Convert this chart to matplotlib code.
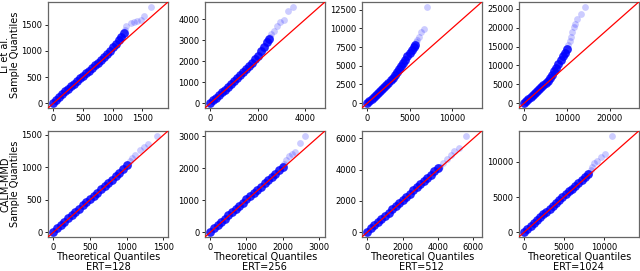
"""QQ plots: Li et al. vs CALM-MMD at four ERT settings."""
import matplotlib
matplotlib.use("Agg")
import matplotlib.pyplot as plt
from matplotlib.ticker import MultipleLocator

ert = [128, 256, 512, 1024]
methods = ["Li et al.", "CALM-MMD"]

# Li et al. -- dense body of the QQ curve, then sparse tail
li_128_x = [0, 50, 100, 150, 200, 250, 300, 350, 400, 450, 500, 550, 600,
            650, 700, 750, 800, 850, 900, 950, 1000, 1050, 1100, 1150, 1200]
li_128_y = [10, 65, 120, 172, 225, 275, 325, 375, 425, 475, 525, 572, 622,
            672, 722, 775, 830, 885, 945, 1005, 1070, 1135, 1205, 1270, 1340]
li_128_tail_x = [1215, 1233, 1306, 1361, 1417, 1472, 1528, 1650]
li_128_tail_y = [1400, 1481, 1525, 1556, 1575, 1587, 1669, 1844]

li_256_x = [0, 125, 250, 375, 500, 625, 750, 875, 1000, 1125, 1250, 1375,
            1500, 1625, 1750, 1875, 2000, 2125, 2250, 2375, 2450]
li_256_y = [20, 145, 270, 395, 522, 650, 778, 908, 1045, 1180, 1330, 1490,
            1635, 1775, 1920, 2085, 2270, 2470, 2680, 2900, 3050]
li_256_tail_x = [2500, 2552, 2690, 2786, 2924, 3103, 3283, 3490]
li_256_tail_y = [3150, 3297, 3453, 3688, 3891, 3953, 4391, 4594]

li_512_x = [0, 250, 500, 750, 1000, 1250, 1500, 1750, 2000, 2250, 2500, 2750,
            3000, 3250, 3500, 3750, 4000, 4250, 4500, 4750, 5000, 5250, 5500,
            5650]
li_512_y = [30, 290, 540, 790, 1050, 1310, 1580, 1850, 2140, 2440, 2740, 3040,
            3420, 3800, 4200, 4560, 4960, 5380, 5800, 6270, 6730, 7150, 7560,
            7800]
li_512_tail_x = [5765, 5922, 6118, 6392, 6706, 7059]
li_512_tail_y = [8165, 8472, 8823, 9561, 9868, 12895]

li_1024_x = [0, 500, 1000, 1500, 2000, 2500, 3000, 3500, 4000, 4500, 5000,
             5500, 6000, 6500, 7000, 7500, 8000, 8500, 9000, 9500, 10000]
li_1024_y = [50, 560, 1070, 1580, 2090, 2620, 3140, 3660, 4180, 4700, 5300,
             5950, 6700, 7500, 8400, 9350, 10400, 11400, 12400, 13400, 14400]
li_1024_tail_x = [10154, 10615, 11000, 11231, 11538, 12000, 12462, 13308, 14308]
li_1024_tail_y = [15278, 16580, 17622, 18750, 20052, 21094, 22309, 23698, 25521]

# CALM-MMD
calm_128_x = [0, 50, 100, 150, 200, 250, 300, 350, 400, 450, 500, 550, 600,
              650, 700, 750, 800, 850, 900, 950, 1000]
calm_128_y = [8, 62, 112, 163, 213, 263, 312, 362, 412, 462, 512, 562, 612,
              661, 712, 762, 812, 862, 915, 968, 1030]
calm_128_tail_x = [1040, 1068, 1113, 1180, 1234, 1293, 1405]
calm_128_tail_y = [1095, 1150, 1186, 1271, 1307, 1362, 1487]

calm_256_x = [0, 100, 200, 300, 400, 500, 600, 700, 800, 900, 1000, 1100,
              1200, 1300, 1400, 1500, 1600, 1700, 1800, 1900, 2000]
calm_256_y = [15, 120, 222, 322, 422, 524, 624, 724, 825, 925, 1025, 1125,
              1225, 1325, 1428, 1528, 1630, 1730, 1832, 1935, 2040]
calm_256_tail_x = [2040, 2088, 2175, 2263, 2351, 2482, 2632]
calm_256_tail_y = [2130, 2276, 2378, 2449, 2510, 2786, 3020]

calm_512_x = [0, 200, 400, 600, 800, 1000, 1200, 1400, 1600, 1800, 2000, 2200,
              2400, 2600, 2800, 3000, 3200, 3400, 3600, 3800, 4000]
calm_512_y = [20, 240, 445, 648, 850, 1050, 1250, 1452, 1655, 1858, 2060, 2262,
              2465, 2668, 2870, 3072, 3275, 3478, 3682, 3890, 4100]
calm_512_tail_x = [4100, 4299, 4486, 4729, 4916, 5196, 5570]
calm_512_tail_y = [4200, 4437, 4708, 4958, 5167, 5375, 6167]

calm_1024_x = [0, 400, 800, 1200, 1600, 2000, 2400, 2800, 3200, 3600, 4000,
               4400, 4800, 5200, 5600, 6000, 6400, 6800, 7200, 7600, 8000]
calm_1024_y = [40, 470, 880, 1290, 1700, 2110, 2520, 2930, 3330, 3740, 4150,
               4560, 4970, 5380, 5790, 6200, 6610, 7030, 7450, 7900, 8330]
calm_1024_tail_x = [8148, 8350, 8560, 8765, 9177, 9588, 10123, 11028]
calm_1024_tail_y = [8472, 8900, 9259, 9861, 10185, 10648, 11111, 13704]

panels = [
    [(li_128_x, li_128_y, li_128_tail_x, li_128_tail_y),
     (li_256_x, li_256_y, li_256_tail_x, li_256_tail_y),
     (li_512_x, li_512_y, li_512_tail_x, li_512_tail_y),
     (li_1024_x, li_1024_y, li_1024_tail_x, li_1024_tail_y)],
    [(calm_128_x, calm_128_y, calm_128_tail_x, calm_128_tail_y),
     (calm_256_x, calm_256_y, calm_256_tail_x, calm_256_tail_y),
     (calm_512_x, calm_512_y, calm_512_tail_x, calm_512_tail_y),
     (calm_1024_x, calm_1024_y, calm_1024_tail_x, calm_1024_tail_y)],
]

# tick spacing per panel (x, y)
tick_steps = [
    [(500, 500), (2000, 1000), (5000, 2500), (10000, 5000)],
    [(500, 500), (1000, 1000), (2000, 2000), (5000, 5000)],
]

fig, axes = plt.subplots(2, 4, figsize=(6.4, 2.71), dpi=100)
fig.subplots_adjust(left=0.075, right=0.998, bottom=0.1255, top=0.9926,
                    wspace=0.308, hspace=0.217)

for r, method in enumerate(methods):
    for c, e in enumerate(ert):
        ax = axes[r][c]
        bx, by, tx, ty = panels[r][c]
        ax.scatter(bx, by, s=40, color="blue", alpha=0.85, linewidths=0)
        ax.scatter(tx, ty, s=24, color="blue", alpha=0.2, linewidths=0)

        vals = bx + by + tx + ty
        span = max(vals) - min(vals)
        lo = min(vals) - 0.05 * span
        hi = max(vals) + 0.05 * span
        ax.plot([lo, hi], [lo, hi], color="red", lw=0.9, zorder=3)
        ax.set_xlim(lo, hi)
        ax.set_ylim(lo, hi)

        sx, sy = tick_steps[r][c]
        ax.xaxis.set_major_locator(MultipleLocator(sx))
        ax.yaxis.set_major_locator(MultipleLocator(sy))
        ax.tick_params(labelsize=6, length=2.5, width=0.6, pad=1.5)
        for sp in ax.spines.values():
            sp.set_color("#666666")
            sp.set_linewidth(0.9)

        if r == 1:
            ax.set_xlabel(f"Theoretical Quantiles\nERT={e}", fontsize=7,
                          labelpad=0.5, linespacing=0.95)
        if c == 0:
            ax.set_ylabel(f"{method}\nSample Quantiles", fontsize=7,
                          labelpad=1, linespacing=1.0)

fig.savefig("out.png", dpi=100)
plt.close(fig)
